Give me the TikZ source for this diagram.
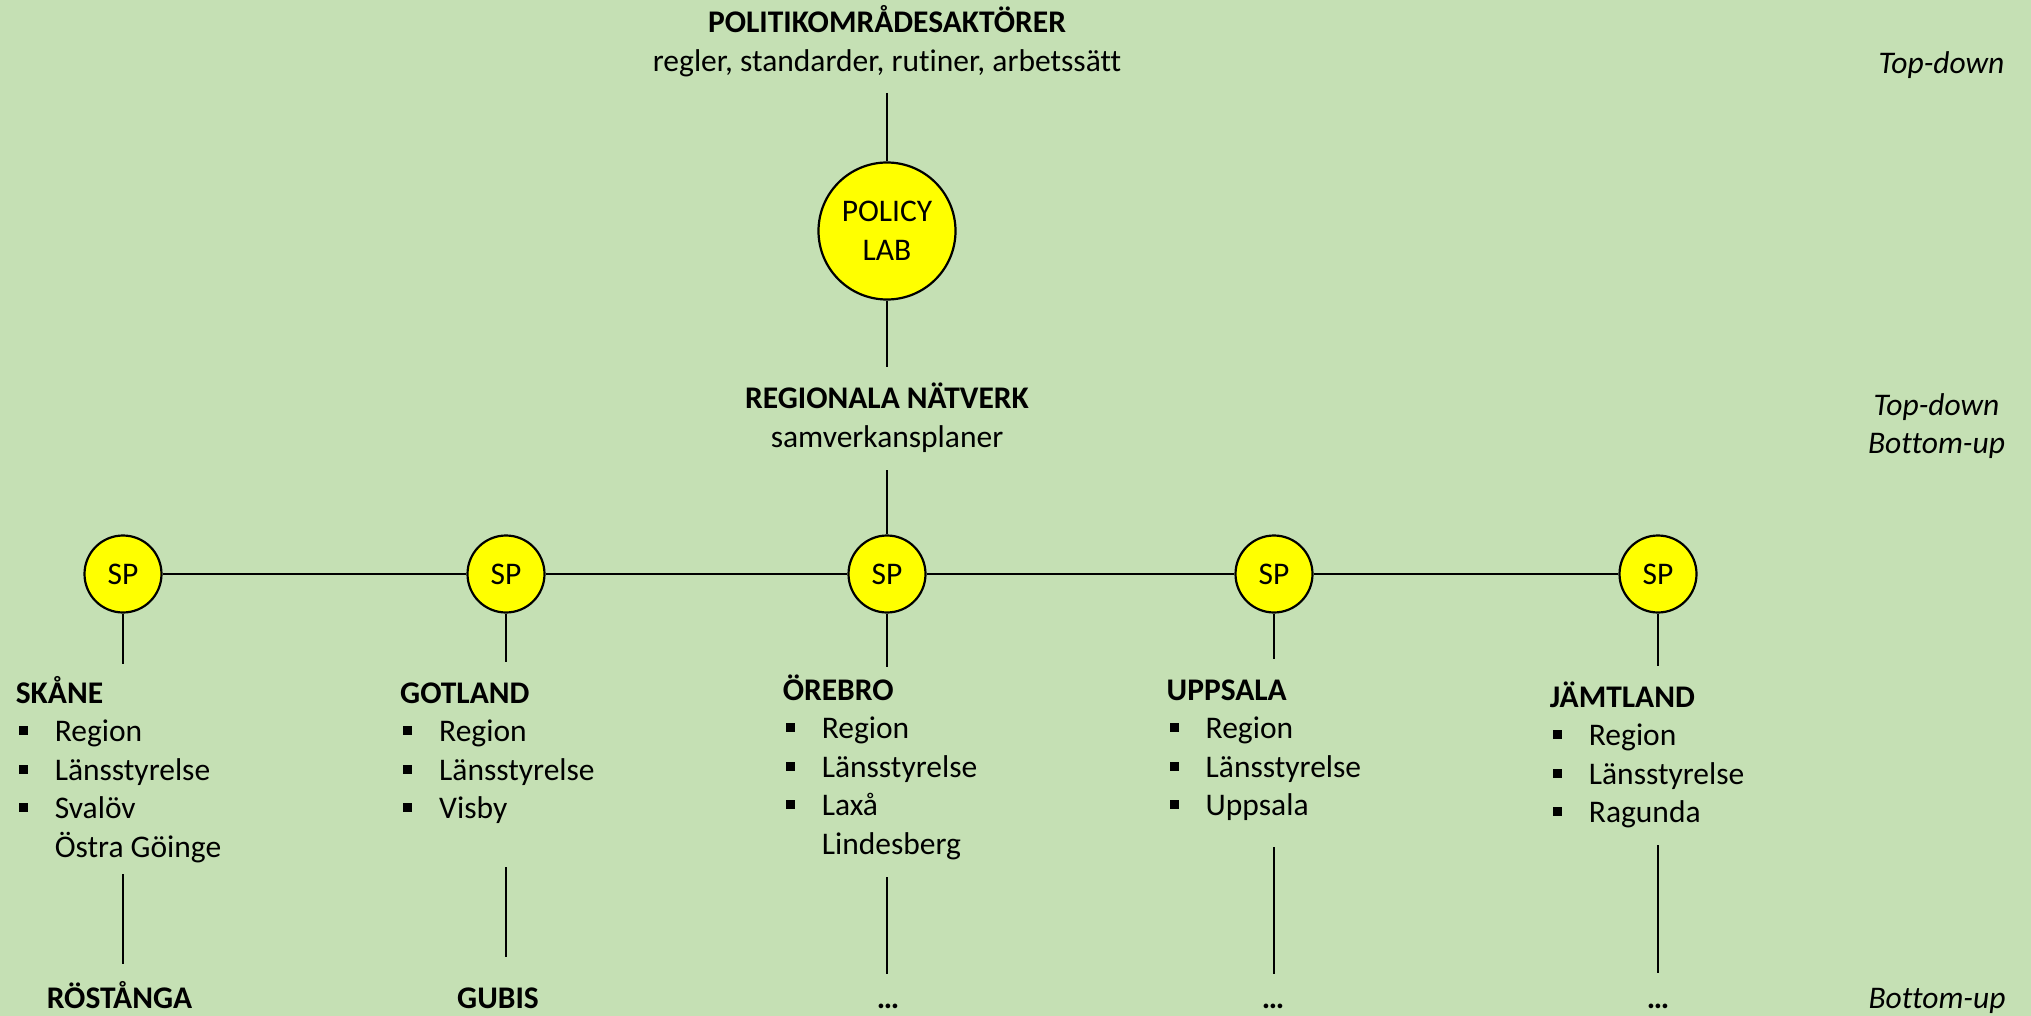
\documentclass[tikz,border=0pt]{standalone}
\usepackage{fontspec}
\setmainfont[Ligatures=NoCommon]{Carlito}
\usetikzlibrary{positioning}
\definecolor{slideGreen}{HTML}{C5E0B4}
\definecolor{labYellow}{HTML}{FFFF00}
\newcommand{\slideFont}{\fontsize{31.5}{38.5}\selectfont}
\tikzstyle{slide} = [x = 1pt, y = -1pt, every node/.style={font=\slideFont, inner sep=0pt}]
\tikzstyle{hubStyle} = [circle, draw=black, fill=labYellow, line width=2.2pt, minimum size=137pt, align=center]
\tikzstyle{spStyle} = [circle, draw=black, fill=labYellow, line width=2.2pt, minimum size=77pt]
\tikzstyle{linkLine} = [line width=2pt, color=black]
\tikzstyle{headText} = [anchor=base, font=\slideFont\bfseries]
\tikzstyle{subText} = [anchor=base]
\tikzstyle{regionHead} = [anchor=base west, font=\slideFont\bfseries]
\tikzstyle{regionItem} = [anchor=base west]
\tikzstyle{sideText} = [anchor=base, font=\slideFont\itshape]
\newcommand{\bulletSize}{9}
\newcommand{\lineSkip}{38.5}
\newcommand{\regionBlock}[5]{
  \node [regionHead] (#1) at (#2, #3) {#4};
  \foreach \itemText [count=\row] in {#5} {
    \pgfmathsetmacro{\itemY}{#3 + \lineSkip * \row}
    \node [regionItem] (#1-\row) at (#2 + 39, \itemY) {\itemText};
    \fill (#2 + 3.2, \itemY - 15.5) rectangle + (\bulletSize, \bulletSize);
  }
}
\newcommand{\extraLine}[5]{\node [regionItem] (#1-#4) at (#2 + 39, #3 + \lineSkip * #4) {#5};}

\begin{document}
\begin{tikzpicture}[slide]
  \useasboundingbox (0,0) rectangle (2031,1016);
  \fill [slideGreen] (0,0) rectangle (2031,1016);
  % top level
  \node [headText] (actors) at (887, 33) {POLITIKOMRÅDESAKTÖRER};
  \node [subText] (actorsSub) at (887, 72) {regler, standarder, rutiner, arbetssätt};
  \node [hubStyle] (lab) at (887, 231) {POLICY\\LAB};
  \node [headText] (network) at (887, 408) {REGIONALA NÄTVERK};
  \node [subText] (networkSub) at (887, 447) {samverkansplaner};
  \coordinate (actorsFoot) at (887, 93);
  \coordinate (networkTop) at (887, 367);
  \coordinate (networkFoot) at (887, 470);
  \draw [linkLine] (actorsFoot) -- (lab);
  \draw [linkLine] (lab) -- (networkTop);
  % side labels
  \node [sideText] (levelTop) at (1941.5, 74) {Top-down};
  \node [sideText] (levelMidA) at (1936.5, 415) {Top-down};
  \node [sideText] (levelMidB) at (1936.5, 453) {Bottom-up};
  \node [sideText] (levelLow) at (1937, 1008) {Bottom-up};
  % SP row
  \foreach \name/\xpos in {1/123, 2/506, 3/887, 4/1274, 5/1658} {
    \node [spStyle] (sp\name) at (\xpos, 574) {SP};
  }
  \draw [linkLine] (sp1) -- (sp2) -- (sp3) -- (sp4) -- (sp5);
  \draw [linkLine] (networkFoot) -- (sp3);
  \foreach \name/\xpos/\topEnd/\lowStart/\lowEnd in {1/123/664/874/964, 2/506/662/867/957, 3/887/667/877/974, 4/1274/659/847/974, 5/1658/666/845/973} {
    \coordinate (spFoot\name) at (\xpos, \topEnd);
    \coordinate (lowTop\name) at (\xpos, \lowStart);
    \coordinate (lowEnd\name) at (\xpos, \lowEnd);
    \draw [linkLine] (sp\name) -- (spFoot\name);
    \draw [linkLine] (lowTop\name) -- (lowEnd\name);
  }
  % regions
  \regionBlock{skane}{15.6}{703}{SKÅNE}{Region, Länsstyrelse, Svalöv}
  \extraLine{skane}{15.6}{703}{4}{Östra Göinge}
  \regionBlock{gotland}{400}{703}{GOTLAND}{Region, Länsstyrelse, Visby}
  \regionBlock{orebro}{782.6}{700}{ÖREBRO}{Region, Länsstyrelse, Laxå}
  \extraLine{orebro}{782.6}{700}{4}{Lindesberg}
  \regionBlock{uppsala}{1166.5}{700}{UPPSALA}{Region, Länsstyrelse, Uppsala}
  \regionBlock{jamtland}{1549.7}{707}{JÄMTLAND}{Region, Länsstyrelse, Ragunda}
  % bottom level
  \node [headText] (rostanga) at (119.5, 1008) {RÖSTÅNGA};
  \node [headText] (gubis) at (498, 1008) {GUBIS};
  \node [headText] (orebroMore) at (888, 1008) {…};
  \node [headText] (uppsalaMore) at (1273, 1008) {…};
  \node [headText] (jamtlandMore) at (1658, 1008) {…};
\end{tikzpicture}
\end{document}
